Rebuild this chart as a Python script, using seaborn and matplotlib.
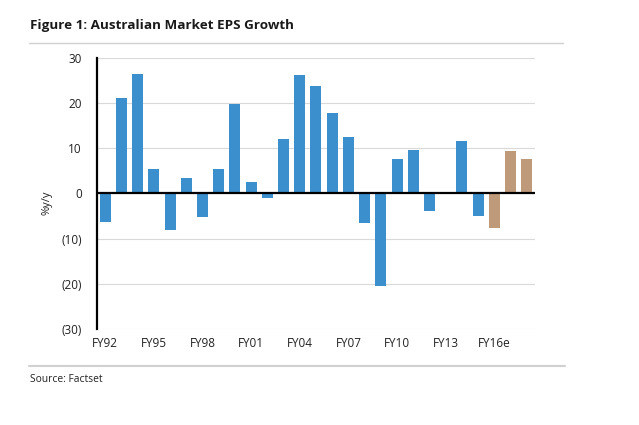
import matplotlib
matplotlib.use("Agg")
import matplotlib.pyplot as plt
import seaborn as sns
import pandas as pd
from matplotlib.lines import Line2D

years = ["FY92", "FY93", "FY94", "FY95", "FY96", "FY97", "FY98", "FY99", "FY00",
         "FY01", "FY02", "FY03", "FY04", "FY05", "FY06", "FY07", "FY08", "FY09",
         "FY10", "FY11", "FY12", "FY13", "FY14", "FY15", "FY16e", "FY17e", "FY18e"]
eps_growth = [-6.4, 21.1, 26.5, 5.3, -8.0, 3.5, -5.2, 5.4, 19.8,
              2.5, -1.0, 12.0, 26.3, 23.7, 17.8, 12.5, -6.5, -20.4,
              7.7, 9.7, -3.9, 0.0, 11.7, -4.9, -7.7, 9.4, 7.7]
kind = ["Actual"] * 24 + ["Estimate"] * 3
tick_labels = ["FY92", "FY95", "FY98", "FY01", "FY04", "FY07", "FY10", "FY13", "FY16e"]
y_ticks = [30, 20, 10, 0, -10, -20, -30]
y_tick_labels = ["30", "20", "10", "0", "(10)", "(20)", "(30)"]

df = pd.DataFrame({"year": years, "growth": eps_growth, "kind": kind})

sns.set_theme(style="white")
plt.rcParams["font.family"] = ["Open Sans", "DejaVu Sans"]

fig = plt.figure(figsize=(6.39, 4.25), dpi=100)
ax = fig.add_axes([0.152, 0.226, 0.685, 0.638])

sns.barplot(data=df, x="year", y="growth", hue="kind",
            palette={"Actual": "#3a8fcc", "Estimate": "#bf9a7a"},
            order=years, dodge=False, width=0.68, legend=False, ax=ax,
            edgecolor="none", linewidth=0, saturation=1)

ax.set_ylim(-30, 30)
ax.set_xlim(-0.5, len(years) - 0.5)
ax.set_yticks(y_ticks)
ax.set_yticklabels(y_tick_labels, fontsize=8.5, color="#222222")
ax.set_xticks([years.index(t) for t in tick_labels])
ax.set_xticklabels(tick_labels, fontsize=8.5, color="#222222")
ax.tick_params(axis="both", length=0)
ax.tick_params(axis="x", pad=6)
ax.tick_params(axis="y", pad=11)
ax.set_xlabel("")
ax.set_ylabel("%y/y", fontsize=8, color="#222222")
ax.yaxis.set_label_coords(-0.103, 0.465)

for y in y_ticks:
    if y != 0:
        ax.axhline(y, color="#d9d9d9", linewidth=0.8, zorder=0)
ax.axhline(0, color="black", linewidth=1.6, zorder=3)

for s in ["top", "right", "bottom"]:
    ax.spines[s].set_visible(False)
ax.spines["left"].set_color("black")
ax.spines["left"].set_linewidth(1.6)

fig.text(30 / 639, 1 - 26 / 425, "Figure 1: Australian Market EPS Growth",
         fontsize=9.7, fontweight="bold", color="#1a1a1a", va="center", ha="left")
fig.add_artist(Line2D([29 / 639, 563 / 639], [1 - 43 / 425, 1 - 43 / 425],
                      color="#d0d0d0", linewidth=1.0))
fig.add_artist(Line2D([29 / 639, 565 / 639], [1 - 366 / 425, 1 - 366 / 425],
                      color="#d0d0d0", linewidth=1.5))
fig.text(30 / 639, 1 - 380 / 425, "Source: Factset", fontsize=7.4,
         color="#222222", va="center", ha="left")

fig.savefig("out.png", dpi=100)
